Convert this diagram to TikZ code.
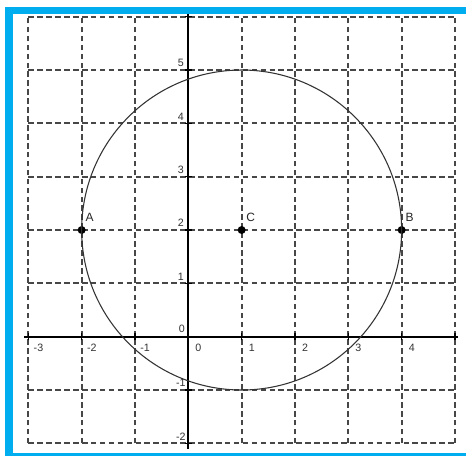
\documentclass[tikz,border=0pt]{standalone}
\usepackage{fontspec}
\setmainfont{Liberation Sans}
\definecolor{gridgray}{HTML}{474747}
\definecolor{framebl}{HTML}{00AEEF}
\tikzset{
  gridline/.style={gridgray, line width=1.6pt, dash pattern=on 4.2pt off 2.5pt},
  axisline/.style={black, line width=1.5pt},
  ticklab/.style={font=\fontsize{8}{9}\selectfont, text=black!80, inner sep=0pt},
  ptlab/.style={font=\fontsize{9}{10}\selectfont, text=black!85, inner sep=0pt},
  ptdot/.style={circle, fill=black, inner sep=0pt, minimum size=6pt}
}
\begin{document}
\begin{tikzpicture}[x=40pt,y=40pt]
\useasboundingbox (-3.531,-2.237) rectangle (5.207,6.313);
\fill[white] (-3.531,-2.237) rectangle (5.207,6.313);
% frame
\fill[framebl] (-3.437,-2.237) rectangle (-3.287,6.181);
\fill[framebl] (-3.437,6.181) rectangle (5.207,6.05);
\fill[framebl] (-3.437,-2.181) rectangle (5.207,-2.237);
% grid
\foreach \x in {-3,...,5} \draw[gridline] (\x,-2) -- (\x,6);
\foreach \y in {-2,...,6} \draw[gridline] (-3,\y) -- (5,\y);
% axes
\coordinate (xl) at (-3.08,0);
\coordinate (xr) at (5.06,0);
\coordinate (yb) at (0,-2.1);
\coordinate (yt) at (0,6.05);
\draw[axisline] (xl) -- (xr);
\draw[axisline] (yb) -- (yt);
\foreach \x in {-3,...,5} \draw[black, line width=1pt] (\x,-0.07) -- (\x,0.07);
\foreach \y in {-2,...,6} \draw[black, line width=1pt] (-0.07,\y) -- (0.07,\y);
% x labels
\foreach \x in {-3,-2,-1,0,1,2,3,4}
  \node[ticklab] at ({\x+0.19},-0.2) {\x};
% y labels
\foreach \y in {-2,-1,1,2,3,4,5}
  \node[ticklab] at (-0.14,{\y+0.13}) {\y};
\node[ticklab] at (-0.12,0.15) {0};
% circle
\node[ptdot] (C) at (1,2) {};
\node[ptdot] (A) at (-2,2) {};
\node[ptdot] (B) at (4,2) {};
\draw[black!80, line width=0.8pt] (C) ++(3,0) arc[start angle=0, end angle=360, radius=3];
\node[ptlab] at (-1.85,2.24) {A};
\node[ptlab] at (1.17,2.24) {C};
\node[ptlab] at (4.15,2.24) {B};
\end{tikzpicture}
\end{document}
